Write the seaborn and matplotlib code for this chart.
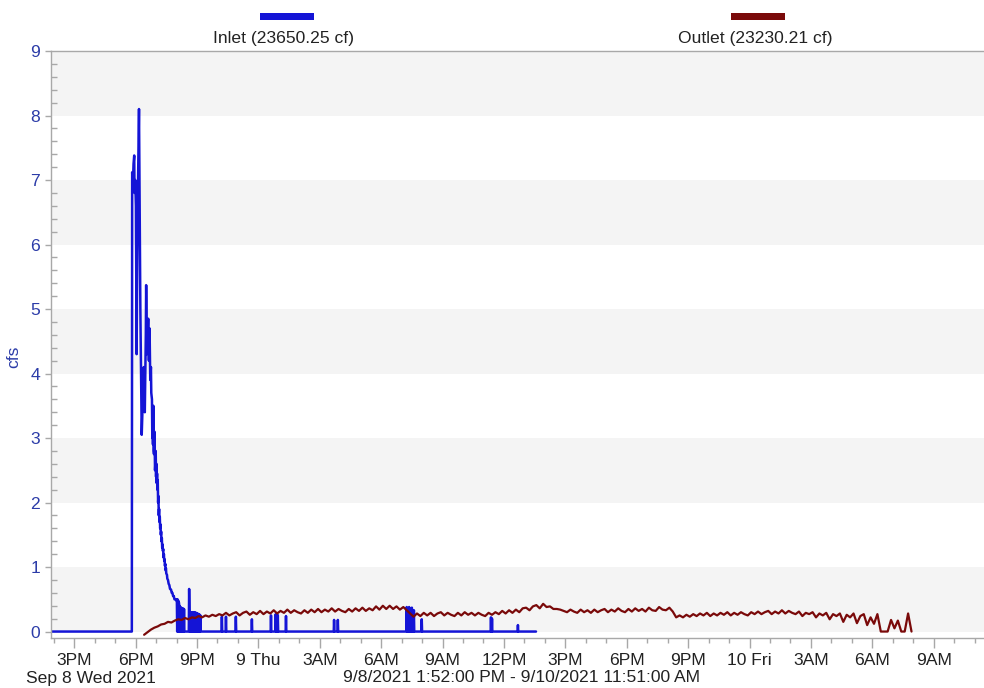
import numpy as np
import pandas as pd
import matplotlib
matplotlib.use("Agg")
import matplotlib.pyplot as plt
import matplotlib.dates as mdates
from matplotlib.ticker import FuncFormatter, MultipleLocator
from matplotlib.patches import Rectangle
import seaborn as sns

# ---------------- data ----------------
START = pd.Timestamp("2021-09-08 13:52")
END = pd.Timestamp("2021-09-10 11:51")

inlet_label = "Inlet (23650.25 cf)"
outlet_label = "Outlet (23230.21 cf)"
range_label = "9/8/2021 1:52:00 PM - 9/10/2021 11:51:00 AM"
date_label = "Sep 8 Wed 2021"
y_label = "cfs"

# minutes after START
inlet_minutes = [
    0, 237, 238, 240, 242, 244, 245, 247, 249, 251, 253, 255, 258, 260, 262, 264, 266, 268,
    270, 272, 274, 275, 277, 278, 279, 281, 283, 285, 287, 289, 291, 293, 294, 296,
    297, 298, 299, 300, 301, 302, 303, 304, 305, 306, 307, 308, 309, 310, 311, 312,
    313, 314, 315, 316, 317, 318, 319, 320, 321, 322, 323, 324, 325, 326, 327, 328,
    329, 330, 331, 332, 333, 334, 335, 336, 337, 338, 340, 341, 343, 345, 347, 349,
    352, 354, 356, 358, 360, 362, 365, 368,
    369, 370, 371, 372, 373, 374, 375, 376, 377, 378, 379, 380, 381, 382, 383,
    384, 385, 386, 387, 388, 389, 390, 391,
    404, 405, 406, 407, 408, 409, 410, 411, 412, 413, 414, 415, 416, 417, 418,
    419, 420, 421, 422, 423, 424, 425, 426, 427, 428, 429, 430, 431, 432, 433,
    434, 435, 436, 437, 438, 439,
    500, 501, 502, 512, 513, 514, 541, 542, 543, 588, 589, 590,
    644, 645, 646, 658, 659, 660, 661, 662, 663, 664, 665, 666, 688, 689, 690,
    829, 830, 831, 840, 841, 842,
    1042, 1043, 1044, 1046, 1047, 1048, 1049, 1050, 1051, 1053, 1054, 1055,
    1057, 1058, 1059, 1063, 1064, 1065, 1086, 1087, 1088,
    1289, 1290, 1291, 1292, 1293, 1294, 1368, 1369, 1370, 1422,
]
inlet_cfs = [
    0, 0, 7.12, 6.9, 7.25, 7.38, 6.8, 7.0, 6.6, 4.3, 5.8, 6.9, 8.1, 6.5, 5.0, 4.0, 3.05, 3.4,
    3.9, 4.1, 3.6, 3.4, 4.2, 4.6, 5.37, 4.3, 4.5, 4.85, 4.2, 4.7, 3.9, 4.1, 3.7, 3.6,
    3.0, 3.2, 2.9, 3.5, 2.8, 2.75, 3.1, 2.9, 2.5, 2.6, 2.8, 2.4, 2.6, 2.3, 2.45, 2.2,
    2.35, 2.0, 2.1, 1.8, 1.9, 1.7, 1.78, 1.6, 1.66, 1.5, 1.55, 1.4, 1.45, 1.3, 1.35, 1.25,
    1.28, 1.15, 1.2, 1.1, 1.12, 1.02, 1.05, 0.95, 0.98, 0.9, 0.88, 0.82, 0.8, 0.74, 0.72, 0.66,
    0.65, 0.6, 0.6, 0.55, 0.55, 0.5, 0.5, 0.48,
    0.5, 0.0, 0.5, 0.0, 0.48, 0.0, 0.45, 0.02, 0.4, 0.0, 0.38, 0.0, 0.37, 0.37, 0.0,
    0.36, 0.0, 0.36, 0.0, 0.35, 0.0, 0.35, 0.0,
    0.0, 0.66, 0.3, 0.0, 0.3, 0.0, 0.3, 0.0, 0.28, 0.0, 0.3, 0.0, 0.28, 0.0, 0.3,
    0.0, 0.27, 0.0, 0.3, 0.0, 0.28, 0.0, 0.29, 0.0, 0.27, 0.0, 0.28, 0.0, 0.26, 0.0,
    0.27, 0.0, 0.26, 0.0, 0.25, 0.0,
    0.0, 0.23, 0.0, 0.0, 0.23, 0.0, 0.0, 0.23, 0.0, 0.0, 0.19, 0.0,
    0.0, 0.25, 0.0, 0.0, 0.27, 0.0, 0.25, 0.0, 0.26, 0.0, 0.25, 0.0, 0.0, 0.24, 0.0,
    0.0, 0.18, 0.0, 0.0, 0.18, 0.0,
    0.0, 0.38, 0.0, 0.0, 0.36, 0.0, 0.0, 0.38, 0.0, 0.0, 0.35, 0.0,
    0.0, 0.37, 0.0, 0.0, 0.33, 0.0, 0.0, 0.19, 0.0,
    0.0, 0.22, 0.0, 0.0, 0.2, 0.0, 0.0, 0.1, 0.0, 0.0,
]

# outlet: 10-minute readings starting at OUTLET_START
OUTLET_START = pd.Timestamp("2021-09-08 18:25")
outlet_cfs = [
    -0.05, -0.01, 0.03, 0.06, 0.08, 0.11, 0.12, 0.15, 0.14, 0.17, 0.19, 0.18,
    0.21, 0.19, 0.22, 0.21, 0.24, 0.22, 0.25, 0.23, 0.26, 0.24, 0.27, 0.25,
    0.29, 0.25, 0.28, 0.30, 0.25, 0.29, 0.31, 0.26, 0.30, 0.27, 0.32, 0.27,
    0.31, 0.28, 0.33, 0.28, 0.32, 0.29, 0.34, 0.29, 0.33, 0.30, 0.28, 0.33,
    0.29, 0.34, 0.30, 0.35, 0.30, 0.34, 0.31, 0.36, 0.31, 0.35, 0.32, 0.30,
    0.35, 0.31, 0.36, 0.32, 0.37, 0.32, 0.36, 0.33, 0.39, 0.34, 0.40, 0.35,
    0.40, 0.35, 0.39, 0.34, 0.38, 0.33, 0.28, 0.23, 0.28, 0.24, 0.29, 0.25,
    0.29, 0.24, 0.28, 0.30, 0.25, 0.29, 0.26, 0.24, 0.29, 0.25, 0.30, 0.26,
    0.29, 0.25, 0.29, 0.26, 0.24, 0.29, 0.26, 0.30, 0.27, 0.32, 0.28, 0.33,
    0.29, 0.34, 0.30, 0.36, 0.37, 0.33, 0.39, 0.41, 0.36, 0.43, 0.38, 0.39,
    0.35, 0.35, 0.34, 0.32, 0.30, 0.34, 0.31, 0.29, 0.34, 0.30, 0.33, 0.29,
    0.34, 0.30, 0.33, 0.35, 0.30, 0.34, 0.31, 0.36, 0.32, 0.30, 0.35, 0.31,
    0.36, 0.32, 0.35, 0.31, 0.37, 0.33, 0.32, 0.38, 0.34, 0.33, 0.37, 0.31,
    0.22, 0.25, 0.22, 0.26, 0.23, 0.27, 0.24, 0.28, 0.25, 0.29, 0.24, 0.28,
    0.25, 0.29, 0.26, 0.30, 0.25, 0.29, 0.26, 0.30, 0.27, 0.25, 0.30, 0.27,
    0.31, 0.27, 0.30, 0.32, 0.27, 0.31, 0.28, 0.33, 0.28, 0.32, 0.29, 0.27,
    0.31, 0.24, 0.29, 0.27, 0.30, 0.22, 0.28, 0.25, 0.29, 0.19, 0.27, 0.24,
    0.28, 0.15, 0.26, 0.22, 0.28, 0.13, 0.24, 0.27, 0.10, 0.22, 0.12, 0.27,
    0.00, 0.00, 0.00, 0.18, 0.05, 0.17, 0.00, 0.00, 0.28, 0.00,
]

inlet_df = pd.DataFrame({
    "time": START + pd.to_timedelta(inlet_minutes, unit="m"),
    "cfs": inlet_cfs,
})
outlet_df = pd.DataFrame({
    "time": pd.date_range(OUTLET_START, periods=len(outlet_cfs), freq="10min"),
    "cfs": outlet_cfs,
})

# ---------------- style ----------------
INLET_C = "#1414d6"
OUTLET_C = "#7a0a0a"
TICK_BLUE = "#2c3ca8"
GRAY = "#a8a8a8"
FS = 12.6

sns.set_theme(style="white")
plt.rcParams["font.family"] = ["Liberation Sans", "DejaVu Sans"]

W, H = 984, 688
fig = plt.figure(figsize=(W / 100, H / 100), dpi=100)
left_px, right_px, top_px, bot_px = 51, 992, 51, 638
ax = fig.add_axes([left_px / W, 1 - bot_px / H, (right_px - left_px) / W, (bot_px - top_px) / H])
ax.set_facecolor("white")

for k in range(0, 9, 2):
    ax.axhspan(k, k + 1, color="#f4f4f4", lw=0, zorder=0)

sns.lineplot(data=inlet_df, x="time", y="cfs", ax=ax, color=INLET_C, lw=1.8,
             estimator=None, zorder=2)
sns.lineplot(data=outlet_df, x="time", y="cfs", ax=ax, color=OUTLET_C, lw=1.6,
             estimator=None, zorder=3)

ax.set_xlim(START, END)
ax.set_ylim(-0.1, 9)

for s in ["left", "top", "bottom"]:
    ax.spines[s].set_color(GRAY)
    ax.spines[s].set_linewidth(1.0)
ax.spines["right"].set_visible(False)

# x ticks
ax.xaxis.set_major_locator(mdates.HourLocator(byhour=range(0, 24, 3)))
ax.xaxis.set_minor_locator(mdates.HourLocator())


def xfmt(x, pos):
    d = mdates.num2date(x)
    if d.hour == 0:
        return f"{d.day} {d.strftime('%a')}"
    h = d.hour % 12 or 12
    return f"{h}{'AM' if d.hour < 12 else 'PM'}"


ax.xaxis.set_major_formatter(FuncFormatter(xfmt))
ax.tick_params(axis="x", which="major", direction="out", length=7, width=1,
               color=GRAY, labelsize=FS, labelcolor="#222222", pad=4, bottom=True)
ax.tick_params(axis="x", which="minor", direction="out", length=3.5, width=1,
               color=GRAY, bottom=True)

# y ticks
ax.yaxis.set_major_locator(MultipleLocator(1))
ax.yaxis.set_minor_locator(MultipleLocator(0.2))
ax.tick_params(axis="y", which="major", direction="out", length=4, width=1,
               color=GRAY, labelsize=FS, labelcolor=TICK_BLUE, pad=4, left=True)
ax.tick_params(axis="y", which="minor", direction="in", length=4, width=1,
               color=GRAY, left=True)

ax.set_ylabel(y_label, color=TICK_BLUE, fontsize=FS)
ax.yaxis.set_label_coords((14 - left_px) / (right_px - left_px), 1 - (357 - top_px) / (bot_px - top_px))
ax.yaxis.label.set_va("center")

ax.set_xlabel(range_label, fontsize=FS, color="#222222")
ax.xaxis.label.set_va("center")
ax.xaxis.set_label_coords(0.5, -(678 - bot_px) / (bot_px - top_px))

fig.text(26 / W, 1 - 678 / H, date_label, fontsize=FS, color="#222222", ha="left", va="center")

# legend (swatch above label)
for cx, col, lab in [(287, INLET_C, inlet_label), (758, OUTLET_C, outlet_label)]:
    fig.add_artist(Rectangle(((cx - 27) / W, 1 - 20 / H), 54 / W, 7 / H,
                             transform=fig.transFigure, facecolor=col, edgecolor="none"))
    fig.text((cx - 3) / W, 1 - 38 / H, lab, fontsize=FS, color="#222222", ha="center", va="center")

fig.savefig("out.png", dpi=100)
